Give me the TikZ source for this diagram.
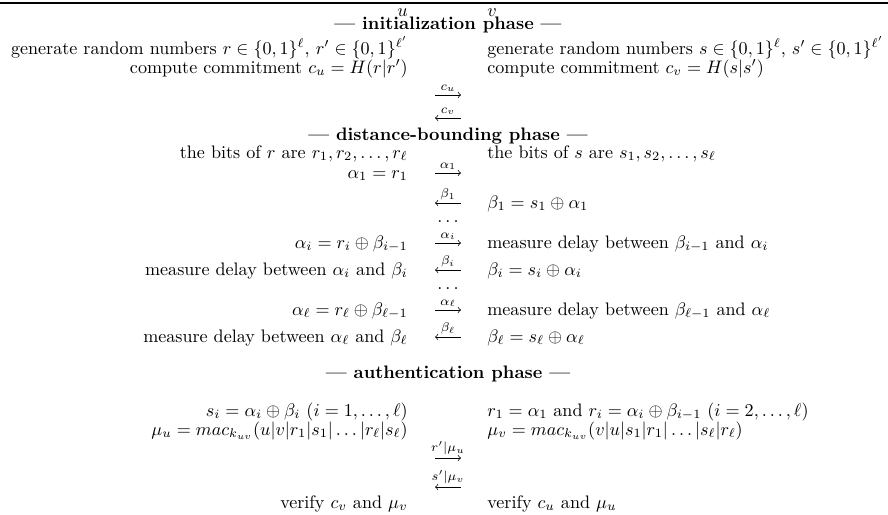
\documentclass[tikz,border=0pt]{standalone}
\usepackage{amsmath}
\usepackage{tikz}
\usetikzlibrary{positioning}

\begin{document}
\begin{tikzpicture}[x=0.553pt, y=-0.553pt,
    every node/.style={inner sep=0pt},
    lcol/.style={anchor=base east},
    rcol/.style={anchor=base west},
    phase/.style={anchor=base, font=\bfseries},
    msg/.style={line width=0.4pt},
    lbl/.style={above=1.5pt, font=\scriptsize}]
  \useasboundingbox (0,0) rectangle (888,514);
  \draw[line width=1pt] (0,3) -- (888,3);
  \node[lcol] (u) at (408,16) {$u$};
  \node[rcol] (v) at (487,16) {$v$};
  % initialization
  \node[phase] (hinit) at (448,29) {--- initialization phase ---};
  \node[lcol] (genu) at (408,54) {generate random numbers $r \in \{0,1\}^\ell$, $r' \in \{0,1\}^{\ell'}$};
  \node[rcol] (genv) at (487,54) {generate random numbers $s \in \{0,1\}^\ell$, $s' \in \{0,1\}^{\ell'}$};
  \node[lcol] (comu) at (408,73) {compute commitment $c_u = H(r|r')$};
  \node[rcol] (comv) at (487,73) {compute commitment $c_v = H(s|s')$};
  % distance bounding
  \node[phase] (hdist) at (448,140) {--- distance-bounding phase ---};
  \node[lcol] (bitu) at (408,158) {the bits of $r$ are $r_1, r_2, \ldots, r_\ell$};
  \node[rcol] (bitv) at (487,158) {the bits of $s$ are $s_1, s_2, \ldots, s_\ell$};
  \node[lcol] (a1) at (408,178) {$\alpha_1 = r_1$};
  \node[rcol] (b1) at (487,208) {$\beta_1 = s_1 \oplus \alpha_1$};
  \node[anchor=base] (dots1) at (448,222) {$\ldots$};
  \node[lcol] (ai) at (408,248) {$\alpha_i = r_i \oplus \beta_{i-1}$};
  \node[rcol] (mi) at (487,248) {measure delay between $\beta_{i-1}$ and $\alpha_i$};
  \node[lcol] (di) at (408,275) {measure delay between $\alpha_i$ and $\beta_i$};
  \node[rcol] (bi) at (487,275) {$\beta_i = s_i \oplus \alpha_i$};
  \node[anchor=base] (dots2) at (448,289) {$\ldots$};
  \node[lcol] (al) at (408,315) {$\alpha_\ell = r_\ell \oplus \beta_{\ell-1}$};
  \node[rcol] (ml) at (487,315) {measure delay between $\beta_{\ell-1}$ and $\alpha_\ell$};
  \node[lcol] (dl) at (408,342) {measure delay between $\alpha_\ell$ and $\beta_\ell$};
  \node[rcol] (bl) at (487,342) {$\beta_\ell = s_\ell \oplus \alpha_\ell$};
  % authentication
  \node[phase] (hauth) at (448,378) {--- authentication phase ---};
  \node[lcol] (su) at (408,416) {$s_i = \alpha_i \oplus \beta_i$ $(i = 1, \ldots, \ell)$};
  \node[rcol] (rv) at (487,416) {$r_1 = \alpha_1$ and $r_i = \alpha_i \oplus \beta_{i-1}$ $(i = 2, \ldots, \ell)$};
  \node[lcol] (muu) at (408,435) {$\mu_u = mac_{k_{uv}}(u|v|r_1|s_1|\ldots|r_\ell|s_\ell)$};
  \node[rcol] (muv) at (487,435) {$\mu_v = mac_{k_{uv}}(v|u|s_1|r_1|\ldots|s_\ell|r_\ell)$};
  \node[lcol] (veru) at (408,508) {verify $c_v$ and $\mu_v$};
  \node[rcol] (verv) at (487,508) {verify $c_u$ and $\mu_u$};
  % messages u -> v
  \foreach \n/\y/\t in {cu/95/c_u, a1/173/\alpha_1, ai/243/\alpha_i, al/310/\alpha_\ell, ru/458/r'|\mu_u} {
    \coordinate (\n-s) at (435,\y);
    \coordinate (\n-e) at (461,\y);
    \draw[msg,->] (\n-s) -- node[lbl] {$\t$} (\n-e);
  }
  % messages v -> u
  \foreach \n/\y/\t in {cv/118/c_v, b1/203/\beta_1, bi/270/\beta_i, bl/337/\beta_\ell, sv/487/s'|\mu_v} {
    \coordinate (\n-s) at (435,\y);
    \coordinate (\n-e) at (461,\y);
    \draw[msg,<-] (\n-s) -- node[lbl] {$\t$} (\n-e);
  }
\end{tikzpicture}
\end{document}
